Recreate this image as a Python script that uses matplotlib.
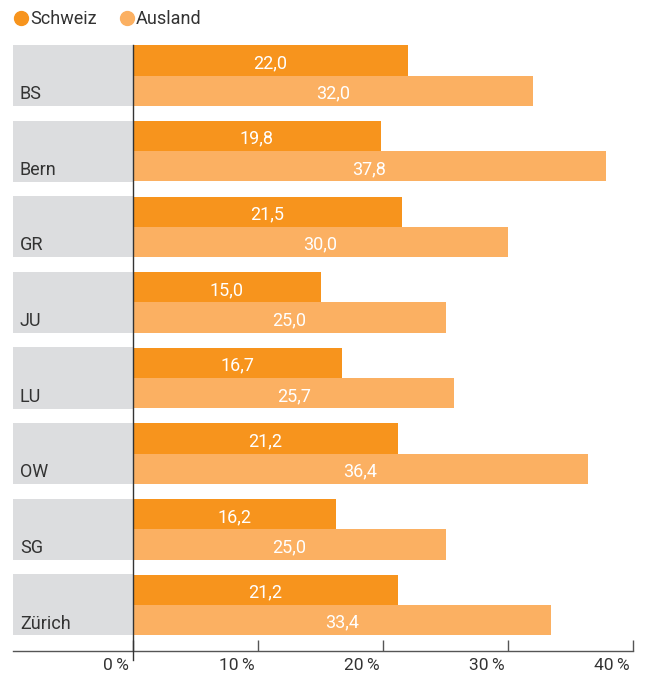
import numpy as np
import matplotlib
matplotlib.use("Agg")
import matplotlib.pyplot as plt
from matplotlib.lines import Line2D

plt.rcParams['font.family'] = ['Roboto', 'DejaVu Sans']

kantone = ["BS", "Bern", "GR", "JU", "LU", "OW", "SG", "Zürich"]
schweiz = [22.0, 19.8, 21.5, 15.0, 16.7, 21.2, 16.2, 21.2]
ausland = [32.0, 37.8, 30.0, 25.0, 25.7, 36.4, 25.0, 33.4]
ticks = [0, 10, 20, 30, 40]

c_dark = "#F7941D"
c_light = "#FBB062"
c_gray = "#DCDDDF"
c_text = "#333333"

fig = plt.figure(figsize=(6.46, 6.75), dpi=100)
ax = fig.add_axes([13 / 646, 1 - 651 / 675, 620 / 646, 611 / 675])

y = np.arange(len(kantone))
h = 0.40
label_x = -9.6

ax.barh(y, -label_x, left=label_x, height=2 * h + 0.01, color=c_gray, zorder=1)
ax.barh(y - h / 2, schweiz, height=h, color=c_dark, zorder=2)
ax.barh(y + h / 2, ausland, height=h, color=c_light, zorder=2)

for i, name in enumerate(kantone):
    ax.text(label_x + 0.55, y[i] + h / 2 + 0.02, name, ha="left",
            va="center_baseline", fontsize=13, color=c_text)
    ax.text(schweiz[i] / 2, y[i] - h / 2 + 0.01, f"{schweiz[i]:.1f}".replace(".", ","),
            ha="center", va="center_baseline", fontsize=13, color="white", zorder=3)
    ax.text(ausland[i] / 2, y[i] + h / 2 + 0.01, f"{ausland[i]:.1f}".replace(".", ","),
            ha="center", va="center_baseline", fontsize=13, color="white", zorder=3)

ax.set_xlim(label_x, 40)
ax.set_ylim(7.61, -0.47)

# vertical zero line
ax.plot([0, 0], [-h - 0.005, 7.73], color=c_text, lw=1, zorder=4, clip_on=False)

for s in ["top", "right", "left"]:
    ax.spines[s].set_visible(False)
ax.spines["bottom"].set_color("#555555")
ax.spines["bottom"].set_linewidth(1)
ax.set_yticks([])
ax.set_xticks(ticks)
ax.set_xticklabels([])
ax.tick_params(axis="x", direction="in", length=8, width=1, color="#555555")
for t in ticks:
    ax.text(t - 0.3, -0.012, f"{t}\u202f%", transform=ax.get_xaxis_transform(),
            ha="right", va="top", fontsize=12.5, color=c_text)

handles = [Line2D([], [], marker="o", ls="", color=c_dark, markersize=10),
           Line2D([], [], marker="o", ls="", color=c_light, markersize=10)]
fig.legend(handles, ["Schweiz", "Ausland"], loc="upper left",
           bbox_to_anchor=(-0.006, 1.009), ncol=2, frameon=False,
           handletextpad=0.0, columnspacing=1.15, fontsize=13,
           labelcolor=c_text, handlelength=1.0)

fig.savefig("out.png", dpi=100)
